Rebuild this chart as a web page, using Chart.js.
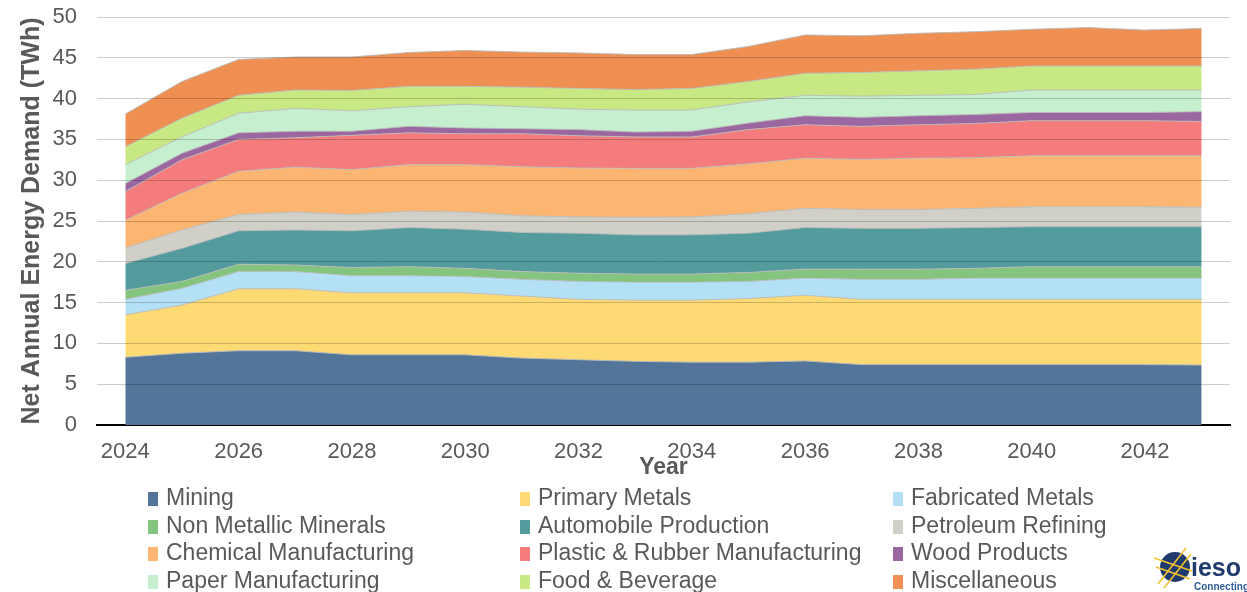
<!DOCTYPE html>
<html>
<head>
<meta charset="utf-8">
<script src="https://cdn.jsdelivr.net/npm/chart.js@4.4.0/dist/chart.umd.min.js"></script>
<style>
    html, body { margin: 0; padding: 0; background: #fff; }
    #wrap { position: relative; width: 1247px; height: 592px; overflow: hidden; }
    #box { position: absolute; left: 0; top: 0; width: 1247px; height: 592px; }
    #legend { position: absolute; left: 0; top: 483px; width: 1247px; height: 110px;
        font-family: "Liberation Sans", Arial, sans-serif; font-size: 23px; color: #595959; }
    .item { position: absolute; white-space: nowrap; height: 28px; line-height: 28px; }
    .swatch { display: inline-block; width: 10px; height: 14px; margin-right: 8px; vertical-align: -1px; }
    #logo { position: absolute; left: 1148px; top: 546px; }
</style>
</head>
<body>
<div id="wrap">
    <div id="box"><canvas id="demandChart"></canvas></div>
    <div id="legend"></div>
    <svg id="logo" width="99" height="46" viewBox="0 0 99 46">
        <circle cx="27" cy="21" r="15" fill="#1f3a6d"></circle>
        <line x1="10" y1="38" x2="38" y2="2" stroke="#f2c230" stroke-width="1.6"></line>
        <line x1="16" y1="42" x2="43" y2="8" stroke="#f2c230" stroke-width="1.6"></line>
        <line x1="6" y1="12" x2="44" y2="25" stroke="#f2c230" stroke-width="1.6"></line>
        <line x1="8" y1="21" x2="42" y2="33" stroke="#f2c230" stroke-width="1.6"></line>
        <text x="43" y="30" font-family="Liberation Sans, Arial, sans-serif" font-size="25" font-weight="bold" fill="#1f3a6d">ieso</text>
        <text x="46" y="44" font-family="Liberation Sans, Arial, sans-serif" font-size="10" font-weight="bold" fill="#2d5d9c">Connecting To</text>
    </svg>
</div>
<script>
// Net annual energy demand by sector, TWh
var years = ["2024", "2025", "2026", "2027", "2028", "2029", "2030", "2031", "2032", "2033",
    "2034", "2035", "2036", "2037", "2038", "2039", "2040", "2041", "2042", "2043"];

var mining = [8.3, 8.8, 9.1, 9.1, 8.6, 8.6, 8.6, 8.2, 8.0, 7.8, 7.7, 7.7, 7.85, 7.4, 7.4, 7.4, 7.4, 7.4, 7.4, 7.35];
var primaryMetals = [5.2, 5.9, 7.6, 7.6, 7.6, 7.6, 7.6, 7.6, 7.4, 7.5, 7.6, 7.8, 8.05, 8.0, 8.0, 8.0, 8.0, 8.0, 8.0, 8.05];
var fabricatedMetals = [1.9, 2.05, 2.1, 2.1, 2.1, 2.1, 2.0, 2.05, 2.2, 2.2, 2.2, 2.1, 2.1, 2.45, 2.45, 2.6, 2.6, 2.6, 2.6, 2.6];
var nonMetallic = [1.1, 0.85, 0.9, 0.8, 1.0, 1.1, 1.0, 0.95, 1.0, 1.0, 1.0, 1.1, 1.1, 1.25, 1.25, 1.2, 1.4, 1.4, 1.4, 1.4];
var automobile = [3.3, 4.05, 4.1, 4.3, 4.5, 4.8, 4.8, 4.8, 4.9, 4.8, 4.8, 4.8, 5.1, 5.0, 5.0, 5.0, 4.9, 4.9, 4.9, 4.9];
var petroleum = [1.9, 2.25, 2.0, 2.2, 2.0, 2.0, 2.1, 2.05, 2.0, 2.15, 2.2, 2.4, 2.35, 2.3, 2.3, 2.35, 2.45, 2.45, 2.45, 2.4];
var chemical = [3.4, 4.5, 5.3, 5.5, 5.5, 5.7, 5.8, 6.0, 6.0, 6.0, 5.95, 6.1, 6.15, 6.15, 6.3, 6.2, 6.25, 6.25, 6.25, 6.3];
var plastic = [3.5, 4.1, 3.9, 3.6, 4.2, 3.9, 3.8, 4.05, 3.95, 3.85, 3.85, 4.2, 4.1, 4.05, 4.1, 4.2, 4.3, 4.3, 4.3, 4.2];
var wood = [1.0, 0.8, 0.8, 0.8, 0.5, 0.8, 0.7, 0.6, 0.75, 0.6, 0.7, 0.8, 1.1, 1.1, 1.1, 1.1, 1.0, 1.0, 1.0, 1.2];
var paper = [2.3, 2.0, 2.4, 2.8, 2.5, 2.4, 2.9, 2.7, 2.5, 2.7, 2.6, 2.6, 2.5, 2.6, 2.5, 2.45, 2.75, 2.75, 2.75, 2.65];
var food = [2.2, 2.3, 2.2, 2.25, 2.5, 2.5, 2.2, 2.4, 2.55, 2.5, 2.65, 2.5, 2.7, 2.9, 3.0, 3.1, 2.95, 2.95, 2.95, 2.95];
var misc = [4.0, 4.5, 4.4, 4.05, 4.1, 4.15, 4.4, 4.3, 4.35, 4.3, 4.15, 4.3, 4.7, 4.5, 4.6, 4.6, 4.5, 4.7, 4.4, 4.6];

var sectorNames = ["Mining", "Primary Metals", "Fabricated Metals", "Non Metallic Minerals",
    "Automobile Production", "Petroleum Refining", "Chemical Manufacturing",
    "Plastic & Rubber Manufacturing", "Wood Products", "Paper Manufacturing",
    "Food & Beverage", "Miscellaneous"];
var sectorValues = [mining, primaryMetals, fabricatedMetals, nonMetallic, automobile, petroleum,
    chemical, plastic, wood, paper, food, misc];
var sectorColors = ["#537599", "#fdda74", "#b3e0f5", "#85c47e", "#549b9e", "#d0d0c8",
    "#fdb671", "#f47c7c", "#9b67a0", "#c6efcf", "#c7e883", "#ef8f52"];

var datasets = sectorNames.map(function (name, i) {
    return {
        label: name,
        data: sectorValues[i],
        backgroundColor: sectorColors[i],
        borderColor: "rgba(185,185,185,0.9)",
        borderWidth: 1,
        pointRadius: 0,
        tension: 0,
        fill: i === 0 ? "origin" : "-1",
    };
});

var tickFont = { family: "Liberation Sans, Arial, sans-serif", size: 22 };
var titleFont = { family: "Liberation Sans, Arial, sans-serif", size: 25, weight: "bold" };

var ctx = document.getElementById("demandChart").getContext("2d");
var demandChart = new Chart(ctx, {
    type: "line",
    data: { labels: years, datasets: datasets },
    options: {
        responsive: true,
        maintainAspectRatio: false,
        animation: false,
        layout: { padding: { left: 0, top: 17, right: 17, bottom: 111 } },
        plugins: {
            legend: { display: false },
            tooltip: { enabled: false },
        },
        scales: {
            x: {
                offset: true,
                grid: { display: false },
                border: { display: true, color: "#000", width: 2 },
                ticks: {
                    autoSkip: false,
                    maxRotation: 0,
                    padding: 6,
                    color: "#595959",
                    font: tickFont,
                    callback: function (value, index) {
                        return index % 2 === 0 ? this.getLabelForValue(value) : "";
                    },
                },
                title: {
                    display: true,
                    text: "Year",
                    color: "#595959",
                    padding: 0,
                    font: { family: "Liberation Sans, Arial, sans-serif", size: 23, weight: "bold" },
                },
                afterFit: function (scale) { scale.height = 56; },
            },
            y: {
                stacked: true,
                min: 0,
                max: 50,
                grid: {
                    z: 1,
                    color: "rgba(0,0,0,0.2)",
                    lineWidth: 1,
                    drawTicks: false,
                },
                border: { display: false },
                ticks: {
                    stepSize: 5,
                    padding: 20,
                    color: "#595959",
                    font: tickFont,
                },
                title: {
                    display: true,
                    text: "Net Annual Energy Demand (TWh)",
                    color: "#595959",
                    padding: { top: 17, bottom: 0 },
                    font: titleFont,
                },
                afterFit: function (scale) {
                    // fixed axis width; label padding shouldn't push the plot down
                    scale.width = 97;
                    scale.paddingTop = 0;
                    scale.paddingBottom = 0;
                },
            },
        },
    },
});

// Legend in three columns, row by row
var legendEl = document.getElementById("legend");
var colX = [148, 520, 893];
demandChart.data.datasets.forEach(function (ds, i) {
    var item = document.createElement("div");
    item.className = "item";
    item.style.left = colX[i % 3] + "px";
    item.style.top = Math.floor(i / 3) * 27.7 + "px";
    var sw = document.createElement("span");
    sw.className = "swatch";
    sw.style.background = ds.backgroundColor;
    item.appendChild(sw);
    item.appendChild(document.createTextNode(ds.label));
    legendEl.appendChild(item);
});
</script>
</body>
</html>
